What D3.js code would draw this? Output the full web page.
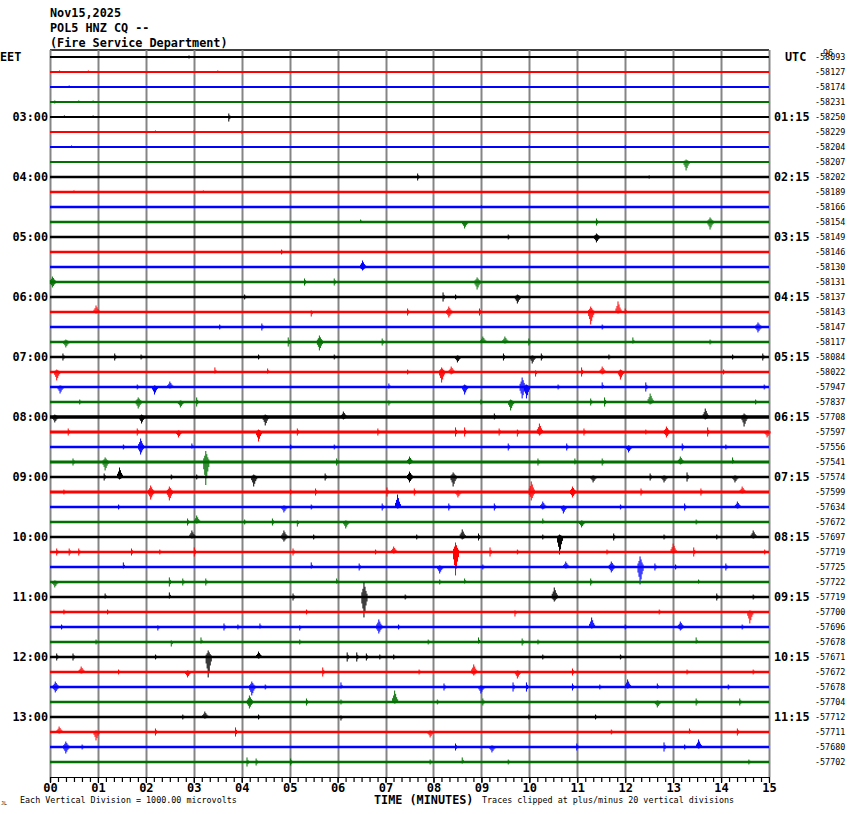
<!DOCTYPE html>
<html lang="en">
<head>
  <meta charset="UTF-8">
  <title>POL5 HNZ CQ helicorder</title>
  <style>
    html, body {
      background-color: #ffffff;
      margin: 0;
    }
    svg {
      display: block;
      font-family: "DejaVu Sans Mono", monospace;
    }
    .title, .hour {
      font-weight: bold;
      font-size: 11.8px;
    }
    .offset, .note {
      font-size: 8.4px;
    }
    .x-axis text {
      font-family: "DejaVu Sans Mono", monospace;
      font-weight: bold;
      font-size: 12px;
    }
  </style>
</head>
<body>
  <svg id="heli" width="850" height="814"></svg>

  <script src="https://cdnjs.cloudflare.com/ajax/libs/d3/7.8.5/d3.min.js"></script>
  <script>
    // header
    const titleLines = ['Nov15,2025', 'POL5 HNZ CQ --', '(Fire Service Department)'];

    // left / right hour labels, one every 4 traces (15 min per trace)
    const localLabels = ['EET', '03:00', '04:00', '05:00', '06:00', '07:00', '08:00', '09:00', '10:00', '11:00', '12:00', '13:00'];
    const utcLabels = ['UTC', '01:15', '02:15', '03:15', '04:15', '05:15', '06:15', '07:15', '08:15', '09:15', '10:15', '11:15'];
    const minuteTicks = ['00', '01', '02', '03', '04', '05', '06', '07', '08', '09', '10', '11', '12', '13', '14', '15'];

    // trace offsets printed on the right
    const offsets = [-58093, -58127, -58174, -58231, -58250, -58229, -58204, -58207,
      -58202, -58189, -58166, -58154, -58149, -58146, -58130, -58131,
      -58137, -58143, -58147, -58117, -58084, -58022, -57947, -57837,
      -57708, -57597, -57556, -57541, -57574, -57599, -57634, -57672,
      -57697, -57719, -57725, -57722, -57719, -57700, -57696, -57678,
      -57671, -57672, -57678, -57704, -57712, -57711, -57680, -57702];

    // background noise per trace, microvolts
    const noise = [40, 40, 40, 40, 50, 50, 50, 50,
      70, 70, 70, 70, 70, 70, 70, 70,
      70, 70, 70, 70, 100, 100, 100, 100,
      170, 140, 100, 120, 100, 120, 100, 100,
      100, 100, 100, 100, 100, 100, 100, 100,
      100, 100, 100, 100, 100, 100, 100, 100];

    // events per trace: [minute, up (uV), down (uV)]
    const events = [
      [[2.9, 70, 70]],
      [[0.2, 70, 0], [0.8, 70, 0], [3.5, 70, 0]],
      [[0.4, 70, 0]],
      [[0.1, 70, 70], [0.6, 70, 0], [0.9, 70, 0]],
      [[0.3, 70, 0], [0.9, 70, 0], [3.73, 200, 270]],
      [[2.2, 70, 0], [3.0, 70, 0], [4.0, 70, 70]],
      [[0.45, 70, 0], [10.0, 70, 0], [12.0, 70, 70]],
      [[13.27, 130, 530]],
      [[7.67, 200, 200], [12.5, 70, 70]],
      [[0.5, 70, 0], [3.2, 70, 0]],
      [[9.0, 70, 0]],
      [[6.48, 130, 0], [8.65, 0, 400], [11.4, 200, 200], [13.77, 270, 470]],
      [[9.56, 130, 130], [11.4, 200, 330]],
      [[4.83, 130, 130]],
      [[6.52, 400, 200]],
      [[0.05, 330, 330], [5.31, 200, 200], [5.93, 200, 200], [8.91, 270, 470]],
      [[4.06, 130, 130], [8.2, 270, 270], [8.46, 130, 130], [9.75, 130, 400]],
      [[0.96, 400, 70], [5.45, 70, 270], [7.46, 200, 200], [8.32, 330, 330], [8.96, 200, 200], [11.28, 330, 800], [11.85, 670, 70], [12.0, 200, 70]],
      [[3.54, 130, 130], [4.42, 200, 200], [11.52, 130, 130], [14.77, 270, 330]],
      [[0.33, 130, 330], [4.97, 270, 270], [5.62, 400, 530], [6.93, 200, 200], [9.03, 330, 0], [9.49, 330, 70], [9.99, 200, 200], [12.16, 270, 70], [13.77, 130, 130]],
      [[0.27, 200, 200], [1.35, 200, 200], [1.9, 130, 130], [4.35, 130, 130], [5.93, 130, 130], [8.5, 70, 330], [9.46, 200, 200], [10.06, 70, 400], [10.25, 200, 200], [11.66, 130, 130], [14.24, 130, 130], [14.87, 200, 200]],
      [[0.14, 130, 530], [3.44, 270, 70], [4.54, 200, 70], [7.46, 130, 130], [8.17, 270, 670], [8.37, 330, 130], [10.13, 70, 270], [11.09, 270, 270], [11.52, 330, 130], [11.9, 130, 470], [14.05, 130, 130]],
      [[0.21, 70, 400], [1.82, 130, 130], [2.18, 70, 470], [2.5, 330, 70], [7.07, 200, 70], [8.65, 130, 470], [9.85, 600, 730], [9.94, 130, 730], [10.6, 130, 130], [11.52, 270, 70], [12.43, 270, 270], [14.9, 130, 130]],
      [[0.62, 130, 130], [1.84, 270, 400], [2.72, 70, 330], [3.06, 270, 270], [7.07, 70, 200], [8.99, 130, 130], [9.61, 130, 530], [11.28, 200, 200], [11.57, 270, 270], [12.52, 530, 130], [14.72, 130, 130]],
      [[0.1, 130, 330], [1.91, 130, 400], [4.49, 130, 530], [6.12, 330, 130], [9.27, 200, 130], [13.67, 530, 130], [14.48, 200, 600]],
      [[0.38, 200, 200], [1.82, 200, 200], [2.68, 70, 330], [4.35, 130, 600], [5.16, 200, 200], [6.84, 200, 200], [8.46, 270, 270], [8.65, 270, 270], [9.37, 200, 200], [9.75, 130, 270], [10.21, 530, 200], [11.14, 200, 200], [12.43, 130, 130], [12.86, 330, 330], [13.72, 270, 270], [14.96, 70, 330]],
      [[1.53, 130, 130], [1.89, 530, 470], [2.96, 200, 70], [5.02, 130, 130], [5.93, 130, 130], [9.56, 200, 200], [10.78, 200, 200], [12.07, 70, 330], [13.19, 200, 200], [14.1, 130, 130]],
      [[0.48, 200, 200], [1.15, 270, 530], [3.25, 700, 1500], [5.98, 200, 200], [7.5, 330, 130], [10.18, 200, 200], [10.95, 200, 130], [11.52, 200, 200], [13.15, 330, 130], [14.24, 270, 70]],
      [[1.13, 200, 200], [1.45, 600, 130], [2.53, 130, 130], [3.06, 130, 130], [4.25, 130, 600], [5.74, 200, 200], [7.5, 330, 330], [8.41, 270, 600], [11.33, 70, 330], [12.52, 200, 200], [12.81, 70, 330], [13.29, 270, 270], [14.29, 70, 330]],
      [[0.29, 130, 130], [2.1, 400, 470], [2.49, 330, 530], [5.02, 130, 130], [5.54, 200, 200], [7.03, 270, 270], [7.6, 200, 200], [8.51, 70, 330], [10.04, 670, 530], [10.9, 330, 330], [12.33, 200, 200], [13.58, 200, 200], [14.44, 330, 70]],
      [[1.43, 130, 130], [4.88, 70, 330], [5.45, 130, 130], [6.93, 200, 200], [7.25, 800, 70], [8.32, 200, 200], [9.27, 200, 200], [10.28, 330, 130], [10.71, 70, 400], [11.9, 130, 130], [13.24, 200, 200], [14.34, 330, 70]],
      [[2.87, 200, 200], [3.06, 400, 70], [4.06, 130, 130], [4.64, 200, 200], [5.16, 70, 270], [6.17, 70, 400], [10.28, 200, 70], [11.09, 70, 330], [13.48, 130, 130]],
      [[2.96, 400, 70], [4.88, 400, 270], [5.5, 130, 130], [7.65, 130, 130], [8.6, 470, 130], [8.94, 200, 200], [10.28, 130, 130], [10.63, 130, 1130], [11.76, 200, 200], [12.81, 130, 130], [13.91, 130, 130], [14.67, 400, 70]],
      [[0.14, 200, 200], [0.4, 200, 200], [0.6, 200, 200], [1.7, 200, 200], [2.29, 130, 130], [3.01, 270, 270], [5.07, 200, 200], [6.79, 130, 130], [7.17, 330, 70], [8.46, 600, 1530], [9.18, 270, 270], [9.75, 130, 130], [11.62, 130, 130], [13.0, 530, 70], [13.43, 270, 270], [14.91, 130, 130]],
      [[1.53, 270, 70], [5.45, 270, 70], [6.45, 200, 200], [8.13, 70, 400], [9.03, 130, 130], [10.76, 330, 70], [11.71, 330, 330], [12.31, 670, 1130], [12.62, 200, 200], [13.05, 130, 130], [14.1, 200, 200]],
      [[0.1, 70, 330], [2.49, 270, 270], [2.77, 200, 200], [3.25, 200, 200], [5.98, 200, 70], [8.13, 130, 130], [8.65, 200, 70], [11.28, 200, 200], [13.53, 130, 70]],
      [[1.15, 200, 70], [2.49, 270, 70], [5.07, 200, 200], [6.55, 930, 1330], [7.41, 130, 130], [10.52, 600, 270], [13.91, 200, 200], [14.67, 130, 130]],
      [[0.29, 130, 130], [1.2, 130, 130], [5.35, 130, 130], [9.7, 70, 270], [12.71, 130, 130], [14.6, 70, 730]],
      [[0.24, 130, 130], [2.25, 70, 200], [3.63, 200, 200], [3.92, 130, 130], [4.38, 200, 70], [5.21, 70, 200], [6.86, 470, 400], [7.27, 130, 130], [11.3, 600, 70], [12.0, 130, 130], [13.15, 330, 200], [14.44, 130, 130]],
      [[0.96, 130, 130], [2.53, 70, 270], [3.15, 270, 70], [5.21, 130, 130], [7.89, 130, 130], [8.94, 270, 70], [9.85, 200, 200], [10.18, 130, 130], [13.48, 270, 70]],
      [[0.14, 200, 200], [0.48, 200, 200], [2.2, 130, 130], [3.3, 400, 1330], [4.35, 330, 70], [6.2, 270, 270], [6.4, 270, 270], [6.6, 200, 200], [6.88, 130, 130], [7.17, 130, 130], [10.28, 130, 130], [11.9, 130, 130]],
      [[0.65, 330, 70], [1.43, 130, 130], [2.87, 70, 330], [5.69, 270, 270], [7.7, 130, 130], [8.84, 470, 200], [9.75, 70, 400], [10.9, 200, 200], [13.29, 130, 130], [14.67, 130, 130]],
      [[0.11, 330, 330], [4.21, 330, 530], [4.49, 130, 130], [6.07, 270, 70], [8.22, 200, 200], [8.99, 70, 400], [9.66, 270, 270], [9.94, 270, 270], [10.9, 200, 200], [11.47, 130, 130], [12.05, 470, 70], [12.67, 200, 70], [14.15, 130, 130]],
      [[4.16, 400, 400], [5.35, 200, 200], [6.07, 130, 130], [7.19, 730, 70], [8.08, 130, 130], [9.03, 200, 200], [12.67, 70, 330], [13.48, 200, 200], [14.39, 200, 200]],
      [[2.77, 130, 130], [3.23, 330, 70], [4.35, 130, 130], [6.07, 70, 200], [9.99, 130, 130], [11.38, 130, 130]],
      [[0.19, 330, 70], [0.96, 70, 530], [2.2, 200, 200], [3.87, 270, 270], [7.93, 70, 330], [11.71, 130, 130], [13.34, 200, 70], [14.34, 200, 200]],
      [[0.33, 330, 400], [0.67, 130, 130], [8.46, 200, 200], [9.22, 70, 330], [10.99, 200, 200], [12.81, 270, 270], [13.24, 130, 130], [13.53, 470, 70]],
      [[4.11, 270, 270], [4.3, 200, 200], [5.02, 200, 200], [7.93, 130, 130], [8.6, 270, 70], [9.56, 130, 130], [14.58, 130, 130]]
    ];

    const traceColors = ['#000000', '#ff0000', '#0000ff', '#007000'];

    const svg = d3.select('#heli');
    const x = d3.scaleLinear().domain([0, 15]).range([50, 769]);
    const y = d3.scalePoint().domain(d3.range(offsets.length)).range([57, 762]);
    const amp = d3.scaleLinear().domain([0, 1000]).range([0, 15]); // one vertical division
    const lineWidth = d3.scaleLinear().domain([0, 200]).range([1.4, 4]);
    const plotTop = 50;
    const plotBottom = 777;

    /**
     * Header
     */
    svg.append('g')
      .selectAll('text')
      .data(titleLines)
      .join('text')
      .attr('class', 'title')
      .attr('x', 50)
      .attr('y', (d, i) => 17 + i * 15)
      .text(d => d);

    /**
     * Grid
     */
    svg.append('line')
      .attr('x1', x(0)).attr('x2', x(15))
      .attr('y1', plotTop).attr('y2', plotTop)
      .attr('stroke', '#000').attr('stroke-width', 1.5);

    svg.append('g')
      .selectAll('line')
      .data(d3.range(0, 16))
      .join('line')
      .attr('x1', d => Math.round(x(d)) + 0.5)
      .attr('x2', d => Math.round(x(d)) + 0.5)
      .attr('y1', plotTop)
      .attr('y2', plotBottom)
      .attr('stroke', '#858585')
      .attr('stroke-width', 2);

    /**
     * Traces
     */
    const traces = svg.append('g')
      .selectAll('g')
      .data(events)
      .join('g')
      .attr('stroke', (d, i) => traceColors[i % 4])
      .attr('fill', 'none');

    traces.append('line')
      .attr('x1', x(0))
      .attr('x2', x(15))
      .attr('y1', (d, i) => y(i))
      .attr('y2', (d, i) => y(i))
      .attr('stroke-width', (d, i) => lineWidth(noise[i]));

    traces.append('path')
      .attr('stroke-width', 1)
      .attr('d', (d, i) => {
        const p = d3.path();
        const y0 = y(i);
        d.forEach(([m, up, down]) => {
          const cx = x(m);
          const burst = Math.max(up, down) > 300
            ? [[0, 1], [-1, 0.55], [1, 0.7], [-2, 0.3], [2, 0.4], [3, 0.2]]
            : [[0, 1], [1, 0.4]];
          burst.forEach(([dx, k]) => {
            p.moveTo(cx + dx, y0 - amp(up) * k - 0.5);
            p.lineTo(cx + dx, y0 + amp(down) * k + 0.5);
          });
        });
        return p.toString();
      });

    /**
     * Labels
     */
    const hourRows = d3.range(0, offsets.length, 4);

    svg.append('g')
      .selectAll('text')
      .data(hourRows)
      .join('text')
      .attr('class', 'hour')
      .attr('x', (d, i) => i === 0 ? 0 : 48)
      .attr('text-anchor', (d, i) => i === 0 ? 'start' : 'end')
      .attr('y', d => y(d) + 4)
      .text((d, i) => localLabels[i]);

    svg.append('g')
      .selectAll('text')
      .data(hourRows)
      .join('text')
      .attr('class', 'hour')
      .attr('x', (d, i) => i === 0 ? 785 : 774)
      .attr('y', d => y(d) + 4)
      .text((d, i) => utcLabels[i]);

    svg.append('g')
      .selectAll('text')
      .data(offsets)
      .join('text')
      .attr('class', 'offset')
      .attr('x', 815)
      .attr('y', (d, i) => y(i) + 3)
      .text(d => d3.format('d')(d).replace('−', '-'));

    svg.append('text')
      .attr('class', 'offset')
      .attr('x', 823)
      .attr('y', y(0) - 1)
      .text('96');

    /**
     * Time axis
     */
    svg.append('g')
      .attr('transform', `translate(0,${plotBottom})`)
      .call(d3.axisBottom(x).tickValues(d3.range(0, 90).map(d => d / 6)).tickSize(5).tickFormat(''))
      .call(g => g.select('.domain').attr('stroke-width', 1.2))
      .call(g => g.selectAll('.tick line').attr('stroke-width', 1.2));

    svg.append('g')
      .attr('class', 'x-axis')
      .attr('transform', `translate(0,${plotBottom})`)
      .call(d3.axisBottom(x).tickValues(d3.range(0, 16)).tickSize(6).tickPadding(0).tickFormat(d => minuteTicks[d]))
      .call(g => g.select('.domain').remove())
      .call(g => g.selectAll('.tick line').attr('stroke-width', 1.2))
      .call(g => g.selectAll('.tick text').attr('fill', '#000'));

    svg.append('text')
      .attr('class', 'title')
      .attr('x', 374)
      .attr('y', 804)
      .text('TIME (MINUTES)');

    svg.append('text')
      .attr('class', 'note')
      .attr('x', 20)
      .attr('y', 803)
      .text('Each Vertical Division = 1000.00 microvolts');

    svg.append('text')
      .attr('class', 'note')
      .attr('x', 482)
      .attr('y', 803)
      .text('Traces clipped at plus/minus 20 vertical divisions');

    svg.append('text')
      .attr('x', 1)
      .attr('y', 805)
      .attr('font-size', 5)
      .text('JL');
  </script>
</body>
</html>
